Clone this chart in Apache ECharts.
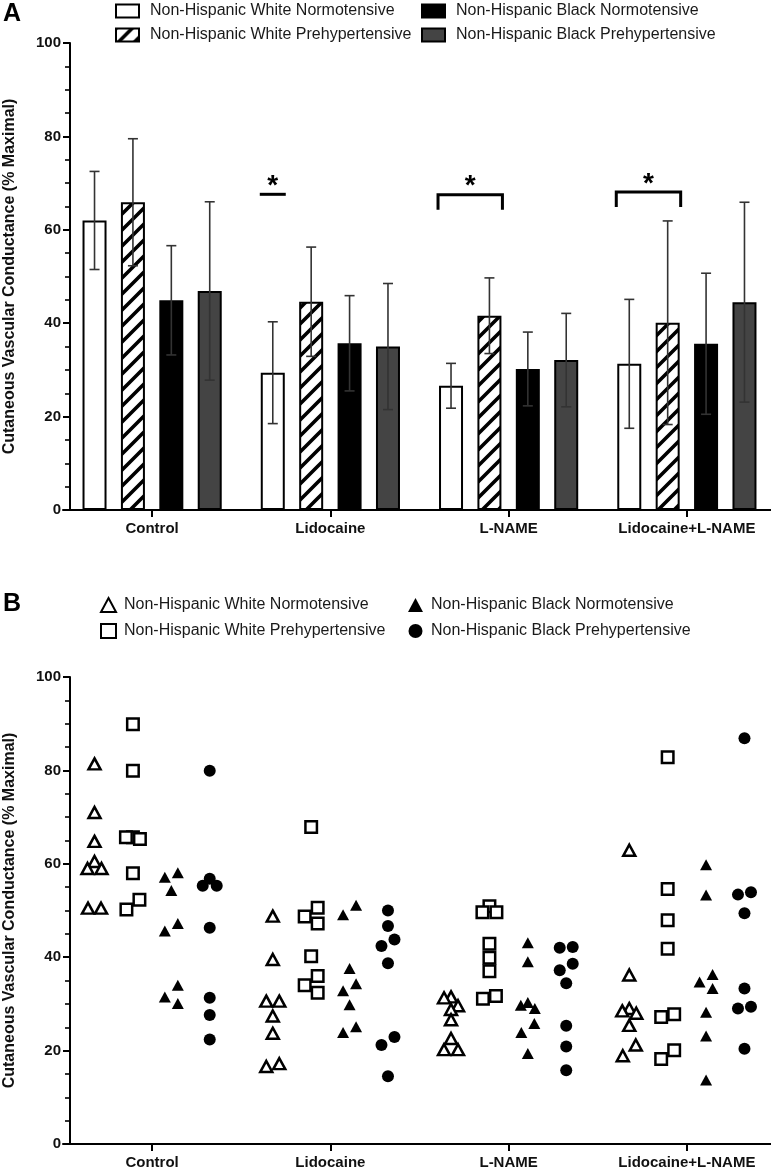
<!DOCTYPE html>
<html><head><meta charset="utf-8">
<script src="https://cdn.jsdelivr.net/npm/echarts@6/dist/echarts.min.js"></script>
<style>html,body{margin:0;padding:0;background:#fff}#c{width:771px;height:1169px}</style>
</head><body><div id="c"></div>
<script>
// ---------------- data ----------------
const categories = ['Control', 'Lidocaine', 'L-NAME', 'Lidocaine+L-NAME'];
const groups = ['Non-Hispanic White Normotensive', 'Non-Hispanic White Prehypertensive',
                'Non-Hispanic Black Normotensive', 'Non-Hispanic Black Prehypertensive'];
const yTicks = [0, 20, 40, 60, 80, 100];
const yAxisTitle = 'Cutaneous Vascular Conductance (% Maximal)';

// Panel A: group means and SD per category
const meanWhiteNormo = [62.0, 29.4, 26.6, 31.3];
const sdWhiteNormo   = [10.5, 10.9, 4.8, 13.8];
const meanWhitePre   = [65.9, 44.6, 41.6, 40.1];
const sdWhitePre     = [13.6, 11.7, 8.1, 21.8];
const meanBlackNormo = [44.9, 35.7, 30.2, 35.6];
const sdBlackNormo   = [11.7, 10.2, 7.9, 15.1];
const meanBlackPre   = [46.9, 35.0, 32.1, 44.5];
const sdBlackPre     = [19.1, 13.5, 10.0, 21.4];

// Panel A significance annotations (category index, level, first bar, last bar)
const sigCategory = [1, 2, 3];
const sigLevel    = [67.6, 67.5, 68.1];
const sigFirstBar = [0, 0, 0];
const sigLastBar  = [0, 1, 1];
const sigLabel    = ['*', '*', '*'];

// Panel B: individual values per category
const indWhiteNormo = [
  [81.4, 71.0, 64.8, 60.5, 59.0, 59.0, 50.5, 50.5],
  [48.8, 39.5, 30.6, 30.6, 27.4, 23.7, 17.2, 16.6],
  [31.5, 31.3, 29.6, 28.8, 26.6, 22.6, 20.2, 20.2],
  [62.9, 36.2, 29.0, 28.5, 28.0, 25.4, 21.2, 18.9]
];
const indWhitePre = [
  [89.9, 79.9, 65.7, 65.7, 65.3, 58.0, 52.3, 50.2],
  [67.9, 50.6, 48.7, 47.2, 40.2, 36.0, 34.0, 32.4],
  [50.9, 49.6, 49.6, 42.9, 39.9, 37.0, 31.7, 31.1],
  [82.8, 54.6, 47.9, 41.8, 27.8, 27.2, 20.1, 18.2]
];
const indBlackNormo = [
  [58.1, 57.1, 54.3, 47.2, 45.6, 34.0, 31.5, 30.1],
  [51.1, 49.1, 37.6, 34.3, 32.8, 29.8, 25.1, 23.9],
  [43.1, 39.0, 30.3, 29.7, 29.0, 25.8, 23.9, 19.4],
  [59.8, 53.3, 36.3, 34.7, 33.3, 28.2, 23.1, 13.7]
];
const indBlackPre = [
  [79.9, 56.8, 55.3, 55.3, 46.3, 31.3, 27.6, 22.4],
  [50.0, 46.7, 43.8, 42.4, 38.7, 22.9, 21.2, 14.5],
  [42.2, 42.0, 38.6, 37.2, 34.4, 25.3, 20.9, 15.8],
  [86.9, 53.9, 53.4, 49.4, 33.3, 29.4, 29.0, 20.4]
];

// ---------------- layout/style ----------------
const FONT = "'Liberation Sans', Arial, Helvetica, sans-serif";
const GRID_LEFT = 63, GRID_W = 713, GRID_H = 467;
const BAND = GRID_W / categories.length;
const BAR_W = 24, BAR_GAP = 0.6, STEP = BAR_W * (1 + BAR_GAP);
const PX_PER_UNIT_Y = GRID_H / 100;

function hatchCanvas() {
  const c = document.createElement('canvas');
  c.width = 16; c.height = 16;
  const g = c.getContext('2d');
  g.fillStyle = '#fff'; g.fillRect(0, 0, 16, 16);
  g.strokeStyle = '#000'; g.lineWidth = 3.6; g.lineCap = 'butt';
  g.beginPath();
  for (const k of [0, 16, 32]) { g.moveTo(-2, k + 2); g.lineTo(k + 2, -2); }
  g.stroke();
  return c;
}
const hatch = { image: hatchCanvas(), repeat: 'repeat' };

const means = [meanWhiteNormo, meanWhitePre, meanBlackNormo, meanBlackPre];
const sds = [sdWhiteNormo, sdWhitePre, sdBlackNormo, sdBlackPre];
const barFills = ['#ffffff', hatch, '#000000', '#444444'];

// jitter (px) for overlapping points, GraphPad-like
function jitter(vals) {
  const idx = vals.map((v, i) => i).sort((a, b) => vals[b] - vals[a]);
  const off = new Array(vals.length).fill(0);
  const TH = 2.75;
  let clusters = [], cur = [idx[0]];
  for (let k = 1; k < idx.length; k++) {
    if (vals[cur[cur.length - 1]] - vals[idx[k]] < TH) cur.push(idx[k]);
    else { clusters.push(cur); cur = [idx[k]]; }
  }
  clusters.push(cur);
  for (const cl of clusters) {
    const n = cl.length;
    if (n === 1) off[cl[0]] = 0;
    else if (n === 2) { off[cl[0]] = 6.5; off[cl[1]] = -6.5; }
    else if (n === 3) {
      const span = vals[cl[0]] - vals[cl[2]];
      if (span < TH) { off[cl[0]] = 0; off[cl[1]] = -7; off[cl[2]] = 7; }
      else { off[cl[0]] = 6.5; off[cl[1]] = -6.5; off[cl[2]] = 6.5; }
    } else {
      const placed = [];
      for (const i of cl) {
        for (const cand of [0, -7, 7, -14, 14]) {
          const ok = placed.every(p => !(Math.abs(vals[p.i] - vals[i]) * PX_PER_UNIT_Y < 10 && Math.abs(p.x - cand) < 7));
          if (ok) { placed.push({ i, x: cand }); off[i] = cand; break; }
        }
      }
      const m = placed.reduce((s, p) => s + p.x, 0) / placed.length;
      for (const p of placed) off[p.i] = p.x - m;
    }
  }
  return off;
}
function scatterData(ind, g) {
  const out = [];
  ind.forEach((vals, c) => {
    const off = jitter(vals);
    vals.forEach((v, i) => out.push([c + ((g - 1.5) * STEP + off[i]) / BAND, v]));
  });
  return out;
}

const axisLineStyle = { color: '#000', width: 2 };
function yAxisCfg(gi) {
  return {
    type: 'value', gridIndex: gi, min: 0, max: 100, interval: 20, offset: -7,
    axisLine: { show: true, onZero: false, lineStyle: axisLineStyle },
    axisTick: { show: true, length: 7, lineStyle: { color: '#000', width: 2 } },
    minorTick: { show: true, splitNumber: 4, length: 5, lineStyle: { color: '#000', width: 1.6 } },
    splitLine: { show: false },
    axisLabel: { fontFamily: FONT, fontSize: 15, fontWeight: 'bold', color: '#111', margin: 9,
      formatter: v => yTicks.includes(v) ? String(v) : '' },
    name: yAxisTitle, nameLocation: 'middle', nameGap: 52, nameRotate: 90,
    nameTextStyle: { fontFamily: FONT, fontSize: 16, fontWeight: 'bold', color: '#111' }
  };
}
function xCatCfg(gi) {
  return {
    type: 'category', gridIndex: gi, data: categories,
    axisLine: { show: true, onZero: false, lineStyle: axisLineStyle },
    axisTick: { show: true, alignWithLabel: true, length: 7, interval: 0, lineStyle: { color: '#000', width: 2 } },
    axisLabel: { interval: 0, fontFamily: FONT, fontSize: 15, fontWeight: 'bold', color: '#111', margin: 11 },
    splitLine: { show: false }
  };
}

const series = [];
groups.forEach((name, g) => {
  series.push({
    name, type: 'bar', xAxisIndex: 0, yAxisIndex: 0, barWidth: BAR_W, barGap: (BAR_GAP * 100) + '%',
    data: means[g], z: 2, silent: true,
    itemStyle: { color: barFills[g], borderColor: '#000', borderWidth: 2 }
  });
});
// error bars
const errData = [];
categories.forEach((c, ci) => groups.forEach((n, g) => errData.push([ci, g, means[g][ci], sds[g][ci]])));
series.push({
  type: 'custom', xAxisIndex: 0, yAxisIndex: 0, data: errData, encode: { x: 0, y: 2 }, z: 5, silent: true,
  renderItem(params, api) {
    const ci = api.value(0), g = api.value(1), m = api.value(2), s = api.value(3);
    const top = api.coord([ci, m + s]), bot = api.coord([ci, m - s]);
    const x = top[0] + (g - 1.5) * STEP, cap = 5;
    const st = { stroke: '#333', lineWidth: 1.6 };
    return { type: 'group', children: [
      { type: 'line', shape: { x1: x, y1: top[1], x2: x, y2: bot[1] }, style: st },
      { type: 'line', shape: { x1: x - cap, y1: top[1], x2: x + cap, y2: top[1] }, style: st },
      { type: 'line', shape: { x1: x - cap, y1: bot[1], x2: x + cap, y2: bot[1] }, style: st }
    ]};
  }
});
// significance brackets
series.push({
  type: 'custom', xAxisIndex: 0, yAxisIndex: 0, z: 6, silent: true,
  data: sigCategory.map((c, i) => [c, sigLevel[i], sigFirstBar[i], sigLastBar[i], i]),
  encode: { x: 0, y: 1 },
  renderItem(params, api) {
    const c = api.value(0), lv = api.value(1), f = api.value(2), l = api.value(3), i = api.value(4);
    const p = api.coord([c, lv]);
    const x1 = p[0] + (f - 1.5) * STEP - 13, x2 = p[0] + (l - 1.5) * STEP + 13;
    const y = p[1], leg = 15;
    const st = { stroke: '#000', lineWidth: 3, fill: null };
    const shape = (f === l)
      ? { type: 'line', shape: { x1, y1: y, x2, y2: y }, style: st }
      : { type: 'polyline', shape: { points: [[x1, y + leg], [x1, y], [x2, y], [x2, y + leg]] }, style: st };
    return { type: 'group', children: [shape,
      { type: 'text', style: { text: sigLabel[i], x: (x1 + x2) / 2, y: y + 6, align: 'center', verticalAlign: 'bottom',
        font: "bold 28px " + FONT, fill: '#000' } }
    ]};
  }
});
// panel B scatter
const indAll = [indWhiteNormo, indWhitePre, indBlackNormo, indBlackPre];
const symbols = ['triangle', 'rect', 'triangle', 'circle'];
const symSizes = [[12, 11], 11.5, [12, 11], 12];
const symFill = ['#fff', '#fff', '#000', '#000'];
const symBorder = [2.5, 2.5, 0, 0];
const bNames = groups.map(n => n + '\u00a0');
groups.forEach((n, g) => {
  series.push({
    name: bNames[g], type: 'scatter', xAxisIndex: 2, yAxisIndex: 1, data: scatterData(indAll[g], g),
    symbol: symbols[g], symbolSize: symSizes[g], silent: true, z: 3,
    itemStyle: { color: symFill[g], borderColor: '#000', borderWidth: symBorder[g], opacity: 1 }
  });
});

const legendText = { fontFamily: FONT, fontSize: 16, color: '#1a1a1a', lineHeight: 16, padding: [0, 0, 0, 6] };
const legendTextB = Object.assign({}, legendText, { padding: [0, 0, 0, 3] });
const option = {
  backgroundColor: '#fff',
  animation: false,
  title: [
    { text: 'A', left: 3, top: 2, textStyle: { fontFamily: FONT, fontSize: 25, fontWeight: 'bold', color: '#000' }, padding: 0 },
    { text: 'B', left: 3, top: 592, textStyle: { fontFamily: FONT, fontSize: 25, fontWeight: 'bold', color: '#000' }, padding: 0 }
  ],
  legend: [
    { orient: 'vertical', left: 115, top: 3, itemWidth: 23, itemHeight: 13, itemGap: 8, icon: 'rect', padding: 0,
      selectedMode: false, data: [groups[0], groups[1]], textStyle: legendText },
    { orient: 'vertical', left: 421, top: 3, itemWidth: 23, itemHeight: 13, itemGap: 8, icon: 'rect', padding: 0,
      selectedMode: false, data: [groups[2], groups[3]], textStyle: legendText },
    { orient: 'vertical', left: 100, top: 597, itemWidth: 15, itemHeight: 14, itemGap: 10, padding: 0,
      selectedMode: false, data: [bNames[0], bNames[1]], textStyle: legendTextB, formatter: n => n.trim() },
    { orient: 'vertical', left: 408, top: 597, itemWidth: 15, itemHeight: 14, itemGap: 10, padding: 0,
      selectedMode: false, data: [bNames[2], bNames[3]], textStyle: legendTextB, formatter: n => n.trim() }
  ],
  grid: [
    { left: GRID_LEFT, width: GRID_W, top: 43, height: GRID_H, outerBoundsMode: 'none', containLabel: false },
    { left: GRID_LEFT, width: GRID_W, top: 677, height: GRID_H, outerBoundsMode: 'none', containLabel: false }
  ],
  xAxis: [
    xCatCfg(0), xCatCfg(1),
    { type: 'value', gridIndex: 1, min: -0.5, max: categories.length - 0.5, show: false }
  ],
  yAxis: [yAxisCfg(0), yAxisCfg(1)],
  series
};
const chart = echarts.init(document.getElementById('c'));
chart.setOption(option);
</script></body></html>
